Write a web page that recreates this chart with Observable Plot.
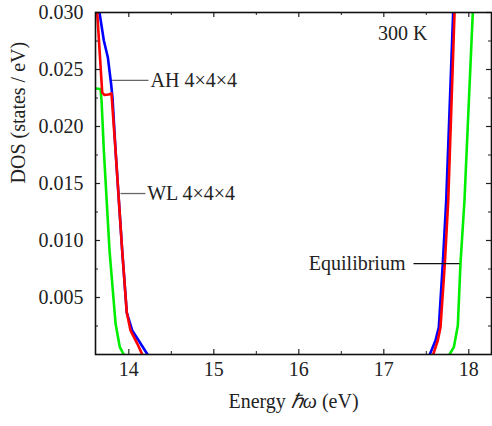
<!DOCTYPE html>
<html><head><meta charset="utf-8">
<script src="https://cdn.jsdelivr.net/npm/d3@7"></script>
<script src="https://cdn.jsdelivr.net/npm/@observablehq/plot@0.6"></script>
<style>
body{margin:0;background:#fff}
</style>
</head><body><div id="chart"></div>
<script>
// Equilibrium (green)
const energyEq = [13.608,13.667,13.679,13.694,13.706,13.773,13.844,13.894,13.941, null, 17.773,17.824,17.871,17.902,17.949,18.047];
const dosEq    = [0.02333,0.02329,0.02228,0.01991,0.01789,0.00912,0.00272,0.00064,0.0, null, 0.0,0.00064,0.00254,0.00798,0.01351,0.0300];
// AH 4x4x4 (blue)
const energyAH = [13.655,13.706,13.753,13.791,13.808,13.844,13.922,13.976,14.040,14.138,14.220, null, 17.541,17.608,17.647,17.694,17.734,17.816];
const dosAH    = [0.0300,0.02754,0.02608,0.02377,0.02254,0.01789,0.00912,0.00368,0.00211,0.00096,0.0, null, 0.0,0.00123,0.00239,0.00798,0.01351,0.0300];
// WL 4x4x4 (red)
const energyWL = [13.628,13.687,13.714,13.761,13.796,13.844,13.922,13.976,14.020,14.099,14.158, null, 17.581,17.635,17.667,17.718,17.758,17.832];
const dosWL    = [0.0300,0.02298,0.02276,0.02281,0.02290,0.01789,0.00912,0.00368,0.00211,0.00096,0.0, null, 0.0,0.00123,0.00239,0.00798,0.01351,0.0300];

const seriesNames  = ["Equilibrium", "AH 4×4×4", "WL 4×4×4"];
const seriesColors = ["#00ee00", "#0000ff", "#ff0000"];
const seriesEnergy = [energyEq, energyAH, energyWL];
const seriesDos    = [dosEq, dosAH, dosWL];

const xMajorTicks = [14, 15, 16, 17, 18];
const xMinorTicks = [14.5, 15.5, 16.5, 17.5];
const yMajorTicks = [0.005, 0.010, 0.015, 0.020, 0.025, 0.030];
const yMinorTicks = [0.0025, 0.0075, 0.0125, 0.0175, 0.0225, 0.0275];

// annotation labels (data coordinates)
const annLabels = ["AH 4×4×4", "WL 4×4×4", "Equilibrium"];
const annLineE1 = [13.804, 13.902, 17.349];
const annLineE2 = [14.231, 14.196, 17.890];
const annDos    = [0.02404, 0.01412, 0.00798];
const annTextE  = [14.256, 14.216, 17.255];
const annAnchor = ["start", "start", "end"];
const tempLabel = "300 K";

const rows = seriesNames.flatMap((name, i) =>
  seriesEnergy[i].map((e, j) => ({series: name, energy: e, dos: seriesDos[i][j]})));
const ann = annLabels.map((label, i) => ({label, e1: annLineE1[i], e2: annLineE2[i], dos: annDos[i], te: annTextE[i], anchor: annAnchor[i]}));

const W = 492, H = 426;
const mL = 95, mR = 1, mT = 12, mB = 72;
const plotW = W - mL - mR, plotH = H - mT - mB;
const major = 5, minor = 3;
const FS = 20;
const FF = "Liberation Serif";

const chart = Plot.plot({
  width: W, height: H,
  marginLeft: mL, marginRight: mR, marginTop: mT, marginBottom: mB,
  style: {background: "#fff", color: "#222"},
  x: {domain: [13.608, 18.267], axis: null},
  y: {domain: [0, 0.030], axis: null},
  color: {domain: seriesNames, range: seriesColors},
  marks: [
    Plot.line(rows, {x: "energy", y: "dos", z: "series", stroke: "series", strokeWidth: 2.6, clip: true, curve: "linear"}),
    // leader lines
    Plot.link(ann, {x1: "e1", x2: "e2", y1: "dos", y2: "dos", stroke: (d, i) => i === 2 ? "#111" : "#666", strokeWidth: 1.3}),
    Plot.text(ann.filter(d => d.anchor === "start"), {x: "te", y: "dos", text: "label", textAnchor: "start", fill: "#222", fontSize: FS, fontFamily: FF}),
    Plot.text(ann.filter(d => d.anchor === "end"), {x: "te", y: "dos", text: "label", textAnchor: "end", fill: "#222", fontSize: FS, fontFamily: FF}),
    Plot.text([tempLabel], {frameAnchor: "top-right", dx: -64, dy: 21, textAnchor: "end", lineAnchor: "middle", fill: "#222", fontSize: FS, fontFamily: FF}),
    // ticks (inward, mirrored)
    Plot.tickX(xMajorTicks, {x: d => d, insetTop: plotH - major, stroke: "#222", strokeWidth: 1.2}),
    Plot.tickX(xMajorTicks, {x: d => d, insetBottom: plotH - major, stroke: "#222", strokeWidth: 1.2}),
    Plot.tickX(xMinorTicks, {x: d => d, insetTop: plotH - minor, stroke: "#222", strokeWidth: 1}),
    Plot.tickX(xMinorTicks, {x: d => d, insetBottom: plotH - minor, stroke: "#222", strokeWidth: 1}),
    Plot.tickY(yMajorTicks, {y: d => d, insetRight: plotW - major, stroke: "#222", strokeWidth: 1.2}),
    Plot.tickY(yMajorTicks, {y: d => d, insetLeft: plotW - major, stroke: "#222", strokeWidth: 1.2}),
    Plot.tickY(yMinorTicks, {y: d => d, insetRight: plotW - minor, stroke: "#222", strokeWidth: 1}),
    Plot.tickY(yMinorTicks, {y: d => d, insetLeft: plotW - minor, stroke: "#222", strokeWidth: 1}),
    Plot.frame({stroke: "#111", strokeWidth: 1.6}),
    Plot.axisX(xMajorTicks, {tickSize: 0, tickPadding: 7, tickFormat: d3.format("d"), fontSize: FS, fontFamily: FF, fill: "#222"}),
    Plot.axisY(yMajorTicks, {tickSize: 0, tickPadding: 12, tickFormat: d3.format(".3f"), fontSize: FS, fontFamily: FF, fill: "#222", label: null}),
    Plot.text(["DOS (states / eV)"], {frameAnchor: "left", dx: -77, rotate: -90, fill: "#222", fontSize: FS, fontFamily: FF}),
    Plot.text(["Energy ℏω (eV)"], {frameAnchor: "bottom", dy: 53, fill: "#222", fontSize: FS, fontFamily: FF})
  ]
});
document.getElementById("chart").appendChild(chart);
chart.style.setProperty("font-family", FF, "important");
chart.querySelectorAll("g, text, tspan").forEach(t => {
  t.style.setProperty("font-family", FF, "important");
});
chart.querySelectorAll("text").forEach(t => {
  if (t.textContent === "Energy ℏω (eV)") {
    t.textContent = "";
    const parts = [["Energy ", null], ["ℏω", "italic"], [" (eV)", null]];
    for (const [s, st] of parts) {
      const ts = document.createElementNS("http://www.w3.org/2000/svg", "tspan");
      ts.textContent = s;
      ts.style.setProperty("font-family", FF, "important");
      if (st) ts.setAttribute("font-style", st);
      t.appendChild(ts);
    }
  }
});
</script>
</body></html>
